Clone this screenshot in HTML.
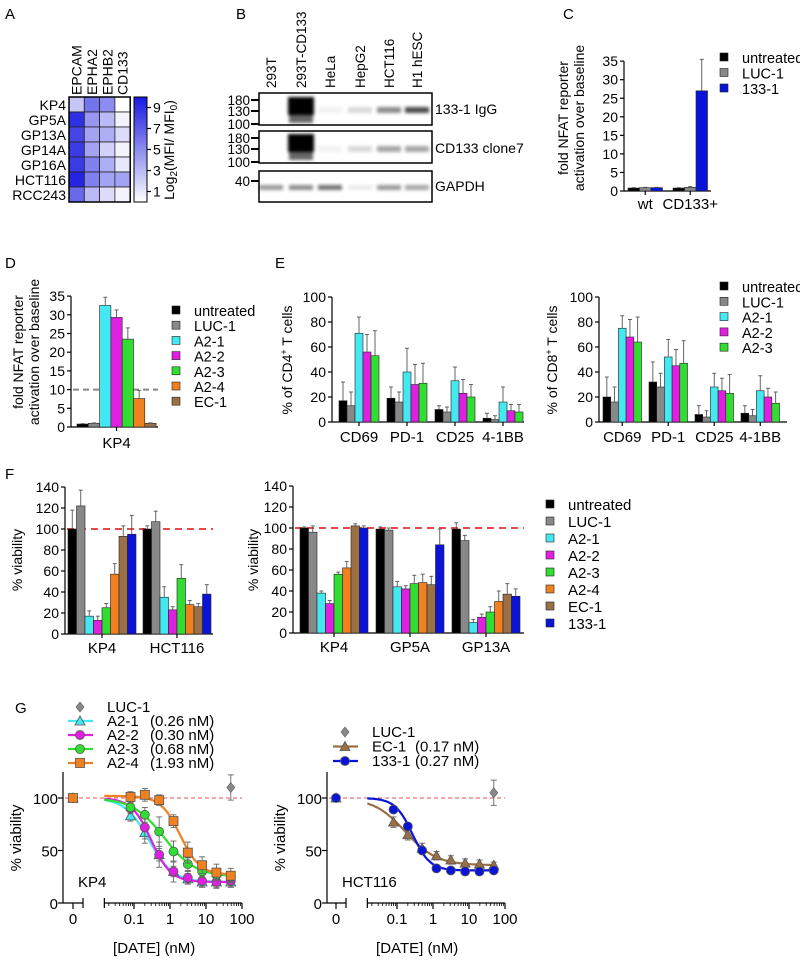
<!DOCTYPE html>
<html><head><meta charset="utf-8"><style>
html,body{margin:0;padding:0;background:#fff}
svg{display:block;font-family:"Liberation Sans",Arial,sans-serif}
</style></head><body>
<svg id="fig" width="800" height="963" viewBox="0 0 800 963" xmlns="http://www.w3.org/2000/svg">
<defs>
<filter id="blur1" x="-50%" y="-50%" width="200%" height="200%"><feGaussianBlur stdDeviation="1.6"/></filter>
<linearGradient id="cbar" x1="0" y1="1" x2="0" y2="0"><stop offset="0" stop-color="#ffffff"/><stop offset="1" stop-color="#1818e0"/></linearGradient>
</defs>
</svg>
<script>
// ---------- DATA ----------
const colors = {untreated:'#000000','LUC-1':'#888888','A2-1':'#44e8f0','A2-2':'#e020e0','A2-3':'#30dd30','A2-4':'#f08020','EC-1':'#9b7045','133-1':'#0a14d8'};
// A heatmap
const hmRows = ['KP4','GP5A','GP13A','GP14A','GP16A','HCT116','RCC243'];
const hmCols = ['EPCAM','EPHA2','EPHB2','CD133'];
const hmVals = [[2.5,6,5,0],[9,4.5,3,0.5],[8,4,3.5,1.5],[8.5,4,2,0.5],[8.5,5.5,3.5,1],[9.5,5.5,4,4],[6.5,3,1.5,0.5]];
const cbTicks = [9,7,5,3,1];
// B blot
const lanes = ['293T','293T-CD133','HeLa','HepG2','HCT116','H1 hESC'];
const igg = [0,1,0.05,0.15,0.45,0.7];
const clone7 = [0,1,0.05,0.15,0.35,0.35];
const gapdh = [0.4,0.45,0.55,0.08,0.4,0.35];
// C
const cCats = ['wt','CD133+'];
const cSeries = ['untreated','LUC-1','133-1'];
const cVals = [[0.8,0.9,0.9],[0.8,1.0,27]];
const cErr = [[0.1,0.1,0.1],[0.1,0.2,8.5]];
// D
const dCats = ['KP4'];
const dSeries = ['untreated','LUC-1','A2-1','A2-2','A2-3','A2-4','EC-1'];
const dVals = [[0.8,1.0,32.5,29.3,23.5,7.6,1.0]];
const dErr = [[0.1,0.1,2.2,2,3,2.2,0.1]];
// E
const eCats = ['CD69','PD-1','CD25','4-1BB'];
const eSeries = ['untreated','LUC-1','A2-1','A2-2','A2-3'];
const e4Vals = [[17,13,71,56,53],[19,16,40,30,31],[10,8,33,23,20],[3,2,16,9,8]];
const e4Err = [[15,11,13,14,20],[9,8,19,16,16],[3,4,11,11,10],[4,3,12,5,6]];
const e8Vals = [[20,16,75,68,64],[32,28,52,45,47],[6,4,28,25,23],[7,5,25,20,15]];
const e8Err = [[16,12,10,14,20],[16,11,14,13,18],[7,5,11,10,15],[6,5,12,7,9]];
// F
const fSeries = ['untreated','LUC-1','A2-1','A2-2','A2-3','A2-4','EC-1','133-1'];
const fLCats = ['KP4','HCT116'];
const fLVals = [[100,122,17,13,25,57,93,95],[100,107,35,23,53,28,26,38]];
const fLErr = [[18,15,5,4,4,10,10,18],[3,10,10,3,13,4,3,9]];
const fRCats = ['KP4','GP5A','GP13A'];
const fRVals = [[100,96,38,28,56,62,102,100],[99,98,44,42,47,48,46,84],[99,88,10,15,20,30,37,35]];
const fRErr = [[1,6,2,3,2,6,2,2],[2,2,5,3,8,8,8,15],[6,5,3,3,5,10,10,7]];
// G
const gConc = [0.08,0.2,0.5,1.25,3.125,7.8,19.5,48.8];
const gKP4Names = ['A2-1','A2-2','A2-3','A2-4'];
const gKP4Labels = ['(0.26 nM)','(0.30 nM)','(0.68 nM)','(1.93 nM)'];
const gKP4Vals = [[83,67,46,30,23,20,20,20],[90,72,46,30,24,21,20,21],[91,84,68,49,37,30,27,25],[101,103,98,78,48,36,29,26]];
const gKP4Err = [[5,6,6,5,5,5,5,5],[5,15,12,10,6,6,6,6],[4,7,14,10,6,6,5,5],[5,6,5,6,10,8,8,7]];
const gKP4Fit = [[100,20,0.26,1.3],[100,20,0.30,1.6],[100,25,0.68,1.0],[102,27,1.93,1.6]];
const gHCTNames = ['EC-1','133-1'];
const gHCTLabels = ['(0.17 nM)','(0.27 nM)'];
const gHCTVals = [[77,65,52,45,41,38,37,36],[89,73,50,33,31,30,30,31]];
const gHCTErr = [[5,5,5,4,4,4,4,3],[3,3,3,3,3,3,3,3]];
const gHCTFit = [[100,36,0.17,1.0],[100,31,0.27,1.8]];
const gLucKP4 = 110, gLucHCT = 105, gLucErr = 12;

// ---------- helpers ----------
const svg = document.getElementById('fig');
const NS = 'http://www.w3.org/2000/svg';
function el(tag, attrs, parent){
  const e = document.createElementNS(NS, tag);
  for (const k in attrs) e.setAttribute(k, attrs[k]);
  (parent||svg).appendChild(e);
  return e;
}
function txt(s, x, y, size, anchor, parent, rot){
  const t = el('text', {x:x, y:y, 'font-size':size, 'text-anchor':anchor||'start', fill:'#000'}, parent);
  if (rot) t.setAttribute('transform', `rotate(${rot} ${x} ${y})`);
  t.textContent = s;
  return t;
}
function grp(name){
  const g = el('g', {});
  
  
  return g;
}
function line(x1,y1,x2,y2,parent,stroke,w,dash){
  const l = el('line',{x1:x1,y1:y1,x2:x2,y2:y2,stroke:stroke||'#000','stroke-width':w||1.2},parent);
  if (dash) l.setAttribute('stroke-dasharray', dash);
  return l;
}

// panel letters
[['A',5,19],['B',236,19],['C',563,19],['D',5,268],['E',275,268],['F',5,479],['G',15,713]].forEach(p=>{
  const t = txt(p[0], p[1], p[2], 15, 'start');
  
  
});

// ---------- A heatmap ----------
(function(){
  const g = grp('heatmap-panel-a');
  const x0 = 69, y0 = 97, cw = 15.3, rh = 15;
  const cx = i => x0 + i*cw, ry = j => y0 + j*rh;
  const col = v => { const f = Math.max(0,Math.min(1,v/10)); const r = Math.round(255 - f*(255-24)), gg = Math.round(255 - f*(255-24)), b = Math.round(255 - f*(255-224)); return `rgb(${r},${gg},${b})`; };
  hmRows.forEach((r,j)=>{
    hmCols.forEach((c,i)=>{
      const rc = el('rect',{x:cx(i),y:ry(j),width:cw,height:rh,fill:col(hmVals[j][i]),stroke:'#222','stroke-width':0.8},g);
      
      
    });
    txt(r, x0-3, ry(j)+rh-2, 14, 'end', g);
  });
  el('rect',{x:x0,y:y0,width:cw*4,height:rh*7,fill:'none',stroke:'#000','stroke-width':1.5},g);
  hmCols.forEach((c,i)=> txt(c, cx(i)+cw/2+5, y0-2, 14, 'start', g, -90));
  const cb = el('rect',{x:134,y:97,width:13,height:105,fill:'url(#cbar)',stroke:'#000','stroke-width':1},g);
  
  
  const cbY = v => 202 - (v/10)*105;
  cbTicks.forEach(t=>{ line(147,cbY(t),151,cbY(t),g); txt(String(t),153,cbY(t)+5,14,'start',g); });
  const tt = el('text',{x:174,y:150,'font-size':14,'text-anchor':'middle',transform:'rotate(-90 174 150)'},g);
  tt.innerHTML = 'Log<tspan font-size="10" dy="3">2</tspan><tspan dy="-3">(MFI/ MFI</tspan><tspan font-size="10" dy="3">0</tspan><tspan dy="-3">)</tspan>';
})();

// ---------- B blot ----------
(function(){
  const g = grp('western-blot-panel-b');
  const laneX = [271,301,330,360,389,417];
  lanes.forEach((l,i)=> txt(l, laneX[i]+5, 88, 13.5, 'start', g, -90));
  const boxes = [[93,125],[131,163],[171,202]];
  boxes.forEach(b=> el('rect',{x:259,y:b[0],width:173,height:b[1]-b[0],fill:'#fff',stroke:'#000','stroke-width':1.5},g));
  const mk = [['180',100],['130',111],['100',124],['180',138],['130',149],['100',162],['40',181]];
  mk.forEach(m=>{ txt(m[0],250,m[1]+5,13.5,'end',g); line(251,m[1],259,m[1],g,'#000',2); });
  const bg = el('g',{filter:'url(#blur1)'},g);
  function band(i, y, h, inten, w){
    if (inten<=0) return;
    const r = el('rect',{x:laneX[i]-(w||12),y:y,width:2*(w||12),height:h,fill:'#000','fill-opacity':inten},bg);
    
    
  }
  igg.forEach((v,i)=>{ if(i===1){band(i,97,18,1,13);band(i,113,10,0.6,12);} else band(i,107,6,v,12); });
  clone7.forEach((v,i)=>{ if(i===1){band(i,134,18,1,13);band(i,150,10,0.6,12);} else band(i,146,6,v,12); });
  gapdh.forEach((v,i)=> band(i,185,5,v,12));
  txt('133-1 IgG',435,114,14,'start',g);
  txt('CD133 clone7',435,153,14,'start',g);
  txt('GAPDH',435,191,14,'start',g);
})();

// ---------- generic bar chart ----------
function barChart(o){
  const g = grp(o.name);
  const y = v => o.y0 - v*o.ppu;
  line(o.ax, o.y0, o.ax, y(o.ymax), g);
  line(o.ax, o.y0, o.axEnd, o.y0, g);
  for (let t=0; t<=o.ymax+1e-9; t+=o.step){
    line(o.ax-4, y(t), o.ax, y(t), g);
    txt(String(t), o.ax-6, y(t)+5, o.tfs||14, 'end', g);
  }
  if (o.ref!=null) line(o.ax+2, y(o.ref), o.refEnd, y(o.ref), g, o.refColor, o.refW||1.5, o.refDash);
  o.cats.forEach((c,gi)=>{
    const gx = o.g0 + gi*o.gs;
    o.series.forEach((s,si)=>{
      const v = o.vals[gi][si], e = o.err ? o.err[gi][si] : 0;
      const bx = gx + si*o.bw;
      const r = el('rect',{x:bx,y:y(v),width:o.bw,height:o.y0-y(v),fill:colors[s],stroke:'#222','stroke-width':0.6},g);
      
      
      if (e>0){ const mx = bx+o.bw/2; line(mx,y(v),mx,y(v+e),g,'#555',0.9); line(mx-2,y(v+e),mx+2,y(v+e),g,'#555',0.9); }
    });
    const cx = gx + o.series.length*o.bw/2;
    line(cx, o.y0, cx, o.y0+4, g);
    txt(c, cx, o.y0+(o.labDy||19), o.lfs||15, 'middle', g);
  });
  if (o.yl){ o.yl.forEach((l,i)=>{ const t = el('text',{x:l[1],y:l[2],'font-size':o.ylfs||14,'text-anchor':'middle',transform:`rotate(-90 ${l[1]} ${l[2]})`},g); t.innerHTML = l[0]; }); }
  return g;
}
function legend(name, series, x, y0, dy, fs, sq){
  const g = grp(name);
  series.forEach((s,i)=>{
    const r = el('rect',{x:x,y:y0+i*dy-sq+1,width:sq,height:sq,fill:colors[s],stroke:'#222','stroke-width':0.6},g);
    
    
    txt(s, x+sq+(fs>14?14:9), y0+i*dy+3, fs, 'start', g);
  });
}

barChart({name:'bar-chart-c',cats:cCats,series:cSeries,vals:cVals,err:cErr,ax:624,axEnd:711,y0:191,ppu:3.71,ymax:35,step:5,g0:628,gs:45,bw:11.5,labDy:18,
  yl:[['fold NFAT reporter',568,118],['activation over baseline',584,118]]});
legend('legend-c', cSeries, 720, 60, 15.5, 14.5, 8);

barChart({name:'bar-chart-d',cats:dCats,series:dSeries,vals:dVals,err:dErr,ax:71,axEnd:158,y0:427,ppu:3.74,ymax:35,step:5,g0:77,gs:0,bw:11.3,labDy:21,
  ref:10,refEnd:158,refColor:'#888',refDash:'6,4',refW:2,
  yl:[['fold NFAT reporter',23,352],['activation over baseline',39,352]]});
legend('legend-d', dSeries, 172, 313, 15.2, 14.5, 8);

barChart({name:'bar-chart-e-cd4',cats:eCats,series:eSeries,vals:e4Vals,err:e4Err,ax:332,axEnd:524,y0:422,ppu:1.25,ymax:100,step:20,g0:339,gs:48,bw:8,labDy:20,
  yl:[['% of CD4<tspan font-size="9" dy="-5">+</tspan><tspan dy="5"> T cells</tspan>',292,360]]});
barChart({name:'bar-chart-e-cd8',cats:eCats,series:eSeries,vals:e8Vals,err:e8Err,ax:599,axEnd:787,y0:422,ppu:1.25,ymax:100,step:20,g0:603,gs:46,bw:7.7,labDy:20,
  yl:[['% of CD8<tspan font-size="9" dy="-5">+</tspan><tspan dy="5"> T cells</tspan>',557,360]]});
legend('legend-e', eSeries, 720, 289, 15.3, 14.5, 8);

barChart({name:'bar-chart-f-left',cats:fLCats,series:fSeries,vals:fLVals,err:fLErr,ax:65,axEnd:213,y0:634,ppu:1.05,ymax:140,step:20,g0:68,gs:75,bw:8.5,labDy:19,
  ref:100,refEnd:213,refColor:'#e84a4a',refDash:'7,5',refW:2,
  yl:[['% viability',22,560]]});
barChart({name:'bar-chart-f-right',cats:fRCats,series:fSeries,vals:fRVals,err:fRErr,ax:293,axEnd:524,y0:633,ppu:1.05,ymax:140,step:20,g0:300,gs:76,bw:8.5,labDy:19,
  ref:100,refEnd:524,refColor:'#e84a4a',refDash:'7,5',refW:2,
  yl:[['% viability',258,560]]});
legend('legend-f', fSeries, 546, 507, 17, 15, 8);

// ---------- G dose response ----------
function doseChart(o){
  const g = grp(o.name);
  const y = v => 903 - v*1.05;
  const xl = c => o.x01 + o.dec*Math.log10(c/0.1);
  line(o.ax, 903, o.ax, 772, g);
  [0,50,100].forEach(t=>{ line(o.ax-5,y(t),o.ax,y(t),g); txt(String(t),o.ax-5,y(t)+6,15,'end',g); });
  line(o.ax, 903, o.zEnd, 903, g); line(o.zEnd,898,o.zEnd,908,g);
  line(o.x0,903,o.x0,909,g); txt('0',o.x0,924,15,'middle',g);
  const ls = xl(o.logStart);
  line(ls,903,xl(100),903,g); line(ls,898,ls,908,g);
  [[0.1,'0.1'],[1,'1'],[10,'10'],[100,'100']].forEach(t=>{ line(xl(t[0]),903,xl(t[0]),909,g); txt(t[1],xl(t[0]),924,15,'middle',g); });
  for (let d=-2; d<2; d++) for (let k=2;k<10;k++){ const c = k*Math.pow(10,d); if (c>o.logStart && c<100) line(xl(c),903,xl(c),906,g,'#000',0.8); }
  txt('[DATE] (nM)', (ls+xl(100))/2-19, 953, 15, 'middle', g);
  const yt = el('text',{x:o.ax-42,y:838,'font-size':15,'text-anchor':'middle',transform:`rotate(-90 ${o.ax-42} 838)`},g); yt.textContent='% viability';
  txt(o.cell, o.ax+15, 887, 15, 'start', g);
  line(o.ax+2, y(100), xl(100), y(100), g, '#e05050', 0.9, '4,3');
  function marker(kind, cx, cy, color, parent){
    let m;
    if (kind==='tri') m = el('polygon',{points:`${cx},${cy-5} ${cx-5},${cy+4} ${cx+5},${cy+4}`,fill:color,stroke:'#555','stroke-width':0.8},parent);
    else if (kind==='sq') m = el('rect',{x:cx-4.5,y:cy-4.5,width:9,height:9,fill:color,stroke:'#555','stroke-width':0.8},parent);
    else if (kind==='dia') m = el('polygon',{points:`${cx},${cy-5} ${cx+4},${cy} ${cx},${cy+5} ${cx-4},${cy}`,fill:color,stroke:'#555','stroke-width':0.6},parent);
    else m = el('circle',{cx:cx,cy:cy,r:4.5,fill:color,stroke:'#555','stroke-width':0.8},parent);
    
    
    return m;
  }
  o.names.forEach((n,si)=>{
    const col = colors[n], p = o.fit[si];
    let d = '';
    for (let i=0;i<=80;i++){
      const lc = Math.log10(o.logStart) + (Math.log10(50)-Math.log10(o.logStart))*i/80;
      const c = Math.pow(10,lc);
      const v = p[1] + (p[0]-p[1])/(1+Math.pow(c/p[2],p[3]));
      d += (i?'L':'M') + xl(c).toFixed(1) + ',' + y(v).toFixed(1);
    }
    const path = el('path',{d:d,fill:'none',stroke:col,'stroke-width':2.2},g);
    
    
    marker(o.kinds[si], o.x0, y(100), col, g);
    gConc.forEach((c,ci)=>{
      const v = o.vals[si][ci], e = o.err[si][ci], cx = xl(c);
      line(cx,y(v-e),cx,y(v+e),g,'#666',0.9); line(cx-3,y(v+e),cx+3,y(v+e),g,'#666',0.9); line(cx-3,y(v-e),cx+3,y(v-e),g,'#666',0.9);
      marker(o.kinds[si], cx, y(v), col, g);
    });
  });
  const lx = xl(48.8);
  line(lx,y(o.luc-gLucErr),lx,y(o.luc+gLucErr),g,'#666',0.9); line(lx-3,y(o.luc+gLucErr),lx+3,y(o.luc+gLucErr),g,'#666',0.9); line(lx-3,y(o.luc-gLucErr),lx+3,y(o.luc-gLucErr),g,'#666',0.9);
  marker('dia', lx, y(o.luc), '#888', g);
  const lg = grp(o.name+'-legend');
  marker('dia', o.legX+12, o.legY, '#888', lg); txt('LUC-1', o.legTx, o.legY+5, 15, 'start', lg);
  o.names.forEach((n,si)=>{
    const yy = o.legY + (si+1)*o.legDy;
    line(o.legX, yy, o.legX+25, yy, lg, colors[n], 2.2);
    marker(o.kinds[si], o.legX+12, yy, colors[n], lg);
    txt(n, o.legTx, yy+5, 15, 'start', lg);
    txt(o.labels[si], o.legTx+o.labOff, yy+5, 15, 'start', lg);
  });
}
doseChart({name:'dose-chart-kp4',cell:'KP4',ax:63,x0:73,zEnd:83,x01:134,dec:36,logStart:0.015,names:gKP4Names,labels:gKP4Labels,vals:gKP4Vals,err:gKP4Err,fit:gKP4Fit,
  kinds:['tri','circ','circ','sq'],luc:gLucKP4,legX:68,legY:707,legDy:14,legTx:107,labOff:43});
doseChart({name:'dose-chart-hct116',cell:'HCT116',ax:327,x0:336,zEnd:346,x01:397,dec:36,logStart:0.015,names:gHCTNames,labels:gHCTLabels,vals:gHCTVals,err:gHCTErr,fit:gHCTFit,
  kinds:['tri','circ'],luc:gLucHCT,legX:333,legY:732,legDy:14.5,legTx:372,labOff:43});
</script>
</body></html>
